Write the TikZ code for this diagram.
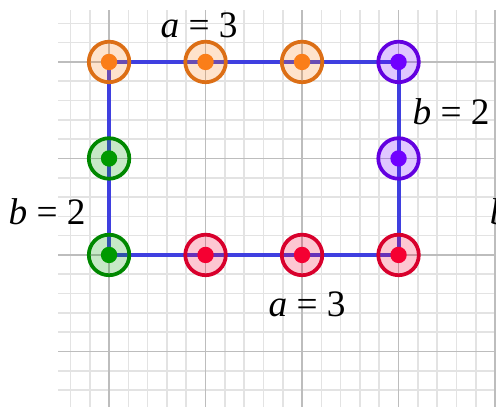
\documentclass[tikz,border=0pt]{standalone}
\usepackage{fontspec}
\setmainfont{Liberation Serif}
\usepackage{xcolor}

\definecolor{ptorange}{HTML}{FA7E19}
\definecolor{ptgreen}{HTML}{009A00}
\definecolor{ptpurple}{HTML}{7000FF}
\definecolor{ptred}{HTML}{F50032}
\definecolor{lineblue}{HTML}{3F3FE0}
\definecolor{gridmajor}{HTML}{BDBDBD}
\definecolor{gridminor}{HTML}{E3E3E3}

\tikzset{
  ring/.style={draw=#1!88!black, line width=1.1pt, fill=#1, fill opacity=0.22},
  dot/.style={fill=#1},
  lbl/.style={font=\fontsize{11}{13}\selectfont, inner sep=0pt},
}

\begin{document}
\begin{tikzpicture}

\useasboundingbox (-1.13,-1.575) rectangle (4.01,2.642);

%---------------- Grid ----------------%
\draw[gridminor, line width=0.45pt, step=0.2] (-0.528,-1.575) grid (4.01,2.54);
\draw[gridmajor, line width=0.5pt, step=1] (-0.528,-1.575) grid (4.01,2.54);

%---------------- Points ----------------%
\coordinate (o1) at (0,2);
\coordinate (o2) at (1,2);
\coordinate (o3) at (2,2);
\coordinate (p1) at (3,2);
\coordinate (p2) at (3,1);
\coordinate (g1) at (0,1);
\coordinate (g2) at (0,0);
\coordinate (r1) at (1,0);
\coordinate (r2) at (2,0);
\coordinate (r3) at (3,0);

%---------------- Rectangle ----------------%
\draw[lineblue, line width=1.2pt] (o1) -- (o2) -- (o3) -- (p1) -- (p2) -- (r3)
      -- (r2) -- (r1) -- (g2) -- (g1) -- cycle;

%---------------- Markers ----------------%
\foreach \n/\c in {o1/ptorange, o2/ptorange, o3/ptorange, p1/ptpurple, p2/ptpurple,
                   g1/ptgreen, g2/ptgreen, r1/ptred, r2/ptred, r3/ptred}{
    \filldraw[ring=\c] (\n) circle (0.21);
    \fill[dot=\c] (\n) circle (0.085);
}

%---------------- Labels ----------------%
\node[lbl] (atop) at (0.933,2.383) {\textit{a} = 3};
\node[lbl] (bright) at (3.544,1.482) {\textit{b} = 2};
\node[lbl] (bleft) at (-0.642,0.446) {\textit{b} = 2};
\node[lbl] (abot) at (2.052,-0.508) {\textit{a} = 3};
\node[lbl, anchor=west] (bcut) at (3.94,0.446) {\textit{b} = 2};

\end{tikzpicture}
\end{document}
